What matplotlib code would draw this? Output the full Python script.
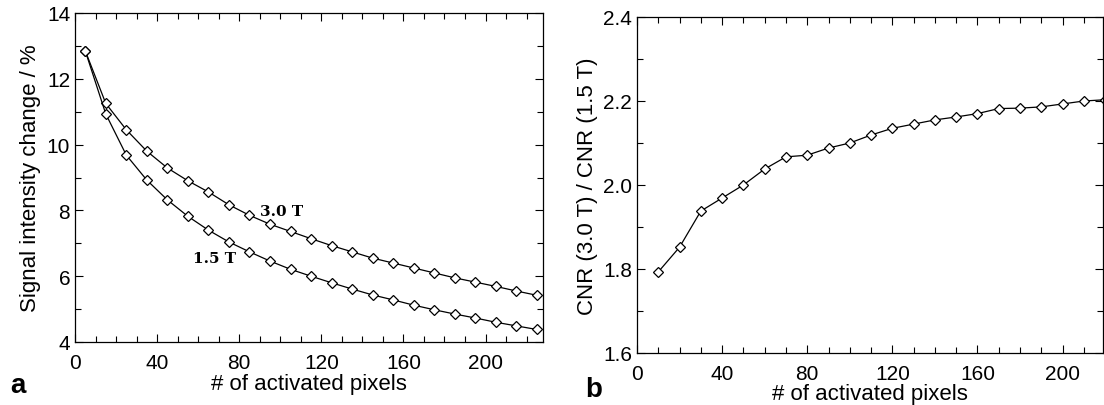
import matplotlib
matplotlib.use("Agg")
import matplotlib.pyplot as plt
from matplotlib.ticker import MultipleLocator

plt.rcParams['font.family'] = ['Liberation Sans', 'DejaVu Sans']

# panel a: signal change vs number of activated pixels
pixels_a = [5, 15, 25, 35, 45, 55, 65, 75, 85, 95, 105, 115,
            125, 135, 145, 155, 165, 175, 185, 195, 205, 215, 225]
signal_30 = [12.85, 11.25, 10.45, 9.8, 9.29, 8.9, 8.56, 8.17, 7.85, 7.58, 7.36, 7.14,
             6.93, 6.74, 6.55, 6.4, 6.25, 6.1, 5.95, 5.82, 5.69, 5.55, 5.42]
signal_15 = [12.85, 10.93, 9.68, 8.92, 8.32, 7.82, 7.4, 7.04, 6.74, 6.46, 6.21, 6.0,
             5.8, 5.61, 5.43, 5.28, 5.12, 4.98, 4.85, 4.73, 4.6, 4.49, 4.38]

# panel b: CNR ratio
pixels_b = [10, 20, 30, 40, 50, 60, 70, 80, 90, 100, 110,
            120, 130, 140, 150, 160, 170, 180, 190, 200, 210, 220]
cnr_ratio = [1.793, 1.852, 1.938, 1.969, 2.0, 2.038, 2.067, 2.071, 2.088, 2.1, 2.119,
             2.135, 2.145, 2.155, 2.162, 2.17, 2.182, 2.183, 2.186, 2.193, 2.2, 2.203]

fig = plt.figure(figsize=(11.04, 4.06), dpi=100)
ax1 = fig.add_axes([75/1104, 63/406, 468/1104, 329/406])
ax2 = fig.add_axes([637/1104, 52/406, 466/1104, 336/406])

mk = dict(color='black', lw=0.9, marker='D', ms=5, mfc='white', mec='black', mew=0.9)

ax1.plot(pixels_a, signal_30, **mk)
ax1.plot(pixels_a, signal_15, **mk)
ax1.set_xlim(0, 228)
ax1.set_ylim(4, 14)
ax1.xaxis.set_major_locator(MultipleLocator(40))
ax1.xaxis.set_minor_locator(MultipleLocator(10))
ax1.yaxis.set_major_locator(MultipleLocator(2))
ax1.yaxis.set_minor_locator(MultipleLocator(1))
ax1.set_xlabel('# of activated pixels', fontsize=16, labelpad=1)
ax1.set_ylabel('Signal intensity change / %', fontsize=16, labelpad=4)
# curve labels placed in pixel coordinates (origin bottom-left)
ax1.text(260, 406 - 212, '3.0 T', transform=None, fontsize=11, fontweight='bold',
         family='DejaVu Serif', va='center')
ax1.text(193, 406 - 259, '1.5 T', transform=None, fontsize=11, fontweight='bold',
         family='DejaVu Serif', va='center')

ax2.plot(pixels_b, cnr_ratio, **mk)
ax2.set_xlim(0, 219)
ax2.set_ylim(1.6, 2.4)
ax2.xaxis.set_major_locator(MultipleLocator(40))
ax2.xaxis.set_minor_locator(MultipleLocator(10))
ax2.yaxis.set_major_locator(MultipleLocator(0.2))
ax2.yaxis.set_minor_locator(MultipleLocator(0.1))
ax2.set_xlabel('# of activated pixels', fontsize=16, labelpad=0)
ax2.set_ylabel('CNR (3.0 T) / CNR (1.5 T)', fontsize=16, labelpad=4)

for ax in (ax1, ax2):
    ax.tick_params(which='both', direction='in', top=True, right=True, labelsize=15)
    ax.tick_params(which='major', length=6, width=0.8)
    ax.tick_params(which='minor', length=4, width=0.8)
    ax.tick_params(axis='x', pad=8)
    for s in ax.spines.values():
        s.set_linewidth(0.9)

fig.text(10/1104, 1 - 386/406, 'a', fontsize=20, fontweight='bold', va='center')
fig.text(585/1104, 1 - 390/406, 'b', fontsize=20, fontweight='bold', va='center')

fig.savefig('out.png', dpi=100)
